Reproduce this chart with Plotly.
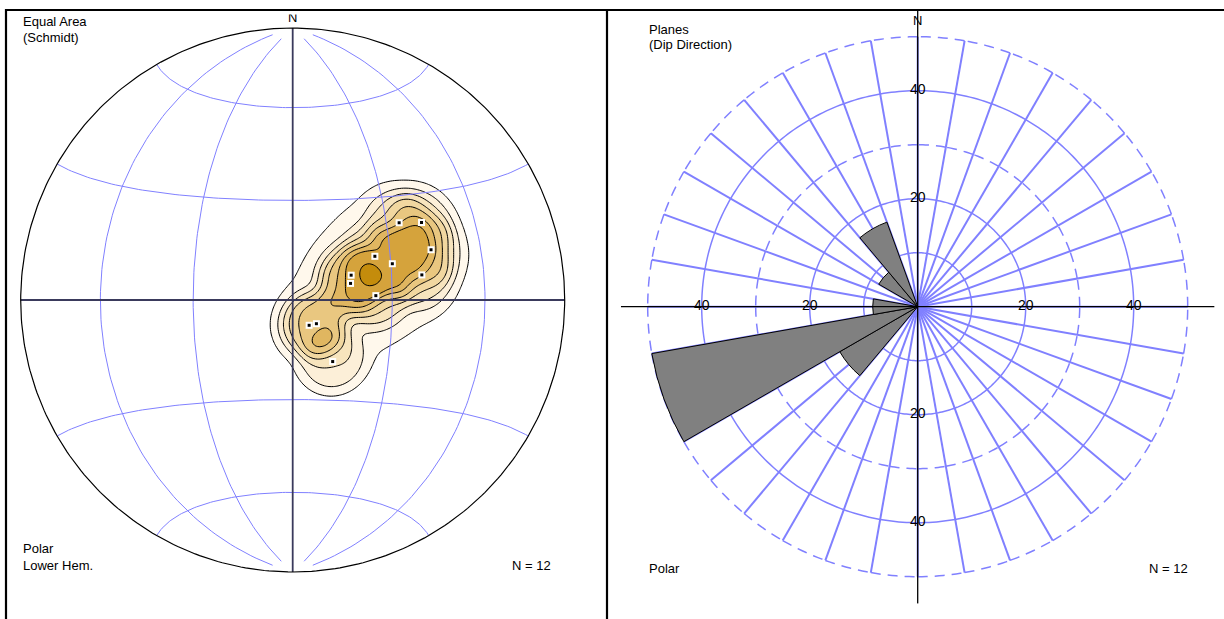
import numpy as np
import plotly.graph_objects as go

# ---- measured planes (degrees) ----
dip_direction = [234, 239, 250, 242, 250, 259, 247, 254, 267, 327, 315, 327]
dip = [40, 46, 45, 28, 32, 40, 19, 18, 25, 9, 10, 22]

# ---- stereonet settings ----
net_meridians = [-60, -30, 30, 60]      # great circles (longitude, deg)
net_parallels = [-60, -30, 30, 60]      # small circles (latitude, deg)
cap_radius = 9.8                        # counting-cap half width, degrees
tail_weight = 0.2                       # weight of the broad smoothing term
tail_sigma = 14.0                       # width of the broad smoothing term, degrees
contour_levels = [0.57, 1.08, 1.60, 2.11, 2.62, 3.14, 3.65, 4.95]
level_colors = ['#FFF8EC', '#FCEFD8', '#F7E4BD', '#F1D7A0',
                '#E9C780', '#E0B660', '#D5A33C', '#C48C0C']

# ---- rose settings ----
rose_bin_width = 20
rose_spoke_step = 10
rose_solid_rings = [20, 40]
rose_dashed_rings = [10, 30, 50]
rose_axis_labels = [20, 40]
rose_outer = 50
rose_axis_extent = 55

W, H = 1224, 619
GRID = '#8080FF'
FONT = 'Liberation Sans, Arial, sans-serif'


def px(x):
    return x / W


def py(y):
    return 1 - y / H


# ---- poles to planes, equal-area (Schmidt) projection ----
pole_trend = np.radians((np.array(dip_direction) + 180) % 360)
pole_theta = np.radians(np.array(dip))          # angle from vertical
pole_r = np.sqrt(2) * np.sin(pole_theta / 2)
pole_x = pole_r * np.sin(pole_trend)
pole_y = pole_r * np.cos(pole_trend)
pole_vec = np.stack([np.sin(pole_theta) * np.sin(pole_trend),
                     np.sin(pole_theta) * np.cos(pole_trend),
                     np.cos(pole_theta)], axis=-1)

# smoothed counting density on the net
g = np.linspace(-1, 1, 241)
GX, GY = np.meshgrid(g, g)
GR = np.hypot(GX, GY)
inside = GR <= 1
g_theta = 2 * np.arcsin(np.clip(GR / np.sqrt(2), 0, 1))
g_trend = np.arctan2(GX, GY)
g_vec = np.stack([np.sin(g_theta) * np.sin(g_trend),
                  np.sin(g_theta) * np.cos(g_trend),
                  np.cos(g_theta)], axis=-1)
ang = np.degrees(np.arccos(np.clip(np.abs(g_vec @ pole_vec.T), -1, 1)))
density = (np.exp(-(ang / cap_radius) ** 4).sum(axis=-1)
           + tail_weight * np.exp(-ang ** 2 / (2 * tail_sigma ** 2)).sum(axis=-1))
density[~inside] = 0


def net_xy(lat, lon):
    la, lo = np.radians(lat), np.radians(lon)
    d = np.sqrt(1 + np.cos(la) * np.cos(lo))
    return np.cos(la) * np.sin(lo) / d, np.sin(la) / d


gx, gy = [], []
for lon in net_meridians:
    lat = np.linspace(-85, 85, 120)
    x, y = net_xy(lat, np.full_like(lat, lon))
    gx += list(x) + [None]
    gy += list(y) + [None]
for lat in net_parallels:
    lon = np.linspace(-90, 90, 120)
    x, y = net_xy(np.full_like(lon, lat), lon)
    gx += list(x) + [None]
    gy += list(y) + [None]

circ = np.linspace(0, 2 * np.pi, 361)

fig = go.Figure()

# one filled contour per level, stacked from low to high
for lev, col in zip(contour_levels, level_colors):
    fig.add_trace(go.Contour(
        x=g, y=g, z=density, xaxis='x', yaxis='y',
        autocontour=False,
        contours=dict(start=lev, end=lev, size=1, coloring='fill', showlines=True),
        colorscale=[[0, 'rgba(255,255,255,0)'], [1, col]], showscale=False,
        line=dict(color='black', width=1, smoothing=1),
        hoverinfo='skip'))

fig.add_trace(go.Scatter(x=gx, y=gy, mode='lines', xaxis='x', yaxis='y',
                         line=dict(color=GRID, width=1), hoverinfo='skip'))
fig.add_trace(go.Scatter(x=[-1, 1, None, 0, 0], y=[0, 0, None, -1, 1], mode='lines',
                         xaxis='x', yaxis='y',
                         line=dict(color='#3a3a5c', width=1.8), hoverinfo='skip'))
fig.add_trace(go.Scatter(x=np.cos(circ), y=np.sin(circ), mode='lines',
                         xaxis='x', yaxis='y',
                         line=dict(color='black', width=1.2), hoverinfo='skip'))
fig.add_trace(go.Scatter(x=pole_x, y=pole_y, mode='markers', xaxis='x', yaxis='y',
                         marker=dict(symbol='square', size=7, color='white',
                                     line=dict(width=0)), hoverinfo='skip'))
fig.add_trace(go.Scatter(x=pole_x, y=pole_y, mode='markers', xaxis='x', yaxis='y',
                         marker=dict(symbol='square', size=3, color='black',
                                     line=dict(width=0)), hoverinfo='skip'))
fig.add_trace(go.Scatter(x=[0], y=[1.033], mode='text', text=['N'], xaxis='x', yaxis='y',
                         textfont=dict(family=FONT, size=13, color='black'),
                         hoverinfo='skip'))

# ---- rose diagram grid (polar) ----
sp_r, sp_t = [], []
for b in range(0, 360, rose_spoke_step):
    sp_r += [0, rose_outer, None]
    sp_t += [b, b, None]
fig.add_trace(go.Scatterpolar(r=sp_r, theta=sp_t, mode='lines', subplot='polar',
                              line=dict(color=GRID, width=2), hoverinfo='skip'))
ring_t = np.linspace(0, 360, 361)
for rr in rose_solid_rings:
    fig.add_trace(go.Scatterpolar(r=np.full_like(ring_t, rr), theta=ring_t, mode='lines',
                                  subplot='polar', line=dict(color=GRID, width=1.5),
                                  hoverinfo='skip'))
for rr in rose_dashed_rings:
    ar, at = [], []
    for b in range(0, 360, rose_spoke_step):
        t = np.linspace(b, b - rose_spoke_step, 12)
        ar += [rr] * len(t) + [None]
        at += list(t) + [None]
    fig.add_trace(go.Scatterpolar(r=ar, theta=at, mode='lines', subplot='polar',
                                  line=dict(color=GRID, width=1.5, dash='10px,7px'),
                                  hoverinfo='skip'))

# ---- rose petals ----
edges = np.arange(0, 360 + rose_bin_width, rose_bin_width)
counts, _ = np.histogram(dip_direction, bins=edges)
pct = counts / len(dip_direction) * 100
centers = edges[:-1] + rose_bin_width / 2
keep = pct > 0
fig.add_trace(go.Barpolar(r=pct[keep], theta=centers[keep], width=[rose_bin_width] * int(keep.sum()),
                          subplot='polar2',
                          marker=dict(color='#808080', line=dict(color='black', width=1)),
                          hoverinfo='skip'))
fig.add_trace(go.Scatterpolar(r=[rose_axis_extent, 0, rose_axis_extent, None,
                                 rose_axis_extent, 0, rose_axis_extent],
                              theta=[270, 0, 90, None, 0, 0, 180],
                              mode='lines', subplot='polar2',
                              line=dict(color='black', width=1.3), hoverinfo='skip'))
lab_r, lab_t, lab_s = [], [], []
for v in rose_axis_labels:
    for a in (0, 90, 180, 270):
        lab_r.append(v)
        lab_t.append(a)
        lab_s.append(str(v))
fig.add_trace(go.Scatterpolar(r=lab_r, theta=lab_t, text=lab_s, mode='text',
                              subplot='polar2',
                              textfont=dict(family=FONT, size=14, color='black'),
                              hoverinfo='skip'))
fig.add_trace(go.Scatterpolar(r=[52.8], theta=[0], text=['N'], mode='text',
                              subplot='polar2',
                              textfont=dict(family=FONT, size=13, color='black'),
                              hoverinfo='skip'))

# ---- layout ----
cx, cy, rad = 292.7, 300.0, 272.0
k = 1.05
rcx, rcy, rrad = 917.7, 306.7, 297.0
polar_box = dict(x=[px(rcx - rrad), px(rcx + rrad)], y=[py(rcy + rrad), py(rcy - rrad)])
polar_common = dict(
    domain=polar_box,
    bgcolor='rgba(0,0,0,0)',
    radialaxis=dict(range=[0, rose_axis_extent], visible=False),
    angularaxis=dict(rotation=90, direction='clockwise', visible=False),
)


def note(text, x, y, anchor='left'):
    return dict(text=text, x=px(x), y=py(y), xref='paper', yref='paper',
                xanchor=anchor, yanchor='middle', showarrow=False,
                font=dict(family=FONT, size=13, color='black'))


fig.update_layout(
    width=W, height=H, margin=dict(l=0, r=0, t=0, b=0),
    paper_bgcolor='white', plot_bgcolor='rgba(0,0,0,0)', showlegend=False,
    xaxis=dict(domain=[px(cx - rad * k), px(cx + rad * k)], range=[-k, k], visible=False),
    yaxis=dict(domain=[py(cy + rad * k), py(cy - rad * k)], range=[-k, k], visible=False),
    polar=polar_common,
    polar2=polar_common,
    annotations=[
        note('Equal Area', 21, 21.5),
        note('(Schmidt)', 21, 37.5),
        note('Polar', 21, 548),
        note('Lower Hem.', 21, 565),
        note('N = 12', 510, 565),
        note('Planes', 647, 29.5),
        note('(Dip Direction)', 647, 44),
        note('Polar', 647, 568),
        note('N = 12', 1147, 568),
    ],
    shapes=[
        dict(type='line', xref='paper', yref='paper', x0=px(5), x1=1, y0=py(10), y1=py(10),
             line=dict(color='black', width=2.2), layer='above'),
        dict(type='line', xref='paper', yref='paper', x0=px(6), x1=px(6), y0=py(9), y1=0,
             line=dict(color='black', width=2.2), layer='above'),
        dict(type='line', xref='paper', yref='paper', x0=px(607), x1=px(607), y0=py(9), y1=0,
             line=dict(color='black', width=2.2), layer='above'),
    ],
)

fig.write_html('out.html')
